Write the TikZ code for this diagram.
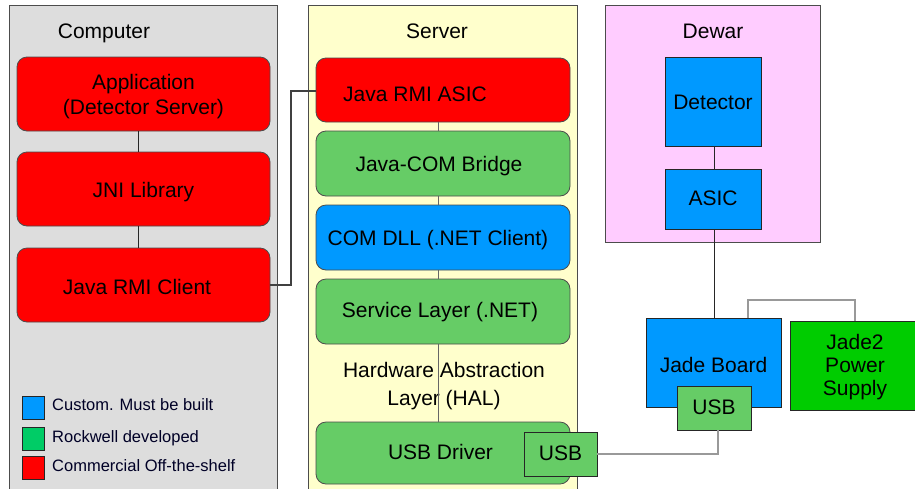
\documentclass[tikz,border=0pt]{standalone}
\usepackage{fontspec}
\setmainfont{Liberation Sans}
\begin{document}
\begin{tikzpicture}[x=1pt,y=-1pt,
  panel/.style={draw=black!70, line width=0.9pt},
  big/.style={font=\fontsize{21}{25}\selectfont},
  th/.style={text height=#1, text depth=0pt},
  rbox/.style={draw=black!70, line width=0.8pt, rounded corners=10pt, align=center, inner sep=0pt, big},
  sbox/.style={draw=black!85, line width=0.9pt, align=center, inner sep=0pt, big},
  link/.style={draw=black!85, line width=0.9pt},
  glink/.style={draw=black!40, line width=1.8pt},
  legbox/.style={draw=black!85, line width=0.9pt, minimum width=22pt, minimum height=23pt, inner sep=0pt},
  legtext/.style={anchor=west, inner sep=0pt, font=\fontsize{16.5}{19}\selectfont, text=black!85!blue},
  title/.style={big, inner sep=0pt, th=15pt}]
\definecolor{cred}{RGB}{255,0,0}
\definecolor{cgreen}{RGB}{102,204,102}
\definecolor{cblue}{RGB}{0,153,255}
\definecolor{cgreenB}{RGB}{0,204,0}
\definecolor{cgreenL}{RGB}{0,204,102}
\definecolor{cgray}{RGB}{221,221,221}
\definecolor{cyel}{RGB}{255,255,204}
\definecolor{cpink}{RGB}{255,204,255}
\useasboundingbox (0,0) rectangle (915,488);
\clip (0,0) rectangle (915,488);
% panels
\path[panel, fill=cgray] (9,5) rectangle (277,500);
\path[panel, fill=cyel] (308,5) rectangle (577,500);
\path[panel, fill=cpink] (605,5) rectangle (820,242);
\node[title] (tcomp) at (104,31) {Computer};
\node[title] (tserv) at (437,31) {Server};
\node[title] (tdew) at (713,31) {Dewar};
% computer
\node[rbox, fill=cred, minimum width=253pt, minimum height=74pt, th=41pt] (app) at (143.5,94) {Application\\(Detector Server)};
\node[rbox, fill=cred, minimum width=253pt, minimum height=74pt, th=17pt] (jni) at (143.5,189) {JNI Library};
\node[rbox, fill=cred, minimum width=253pt, minimum height=74pt, th=19pt] (rmic) at (143.5,285) {\hspace*{-13pt}Java RMI Client};
% server
\node[rbox, fill=cred, minimum width=254pt, minimum height=64pt, th=23pt] (rmia) at (443,90) {Java RMI ASIC\hspace*{56pt}};
\node[rbox, fill=cgreen, minimum width=254pt, minimum height=65pt, th=16pt] (bridge) at (443,163.5) {\hspace*{-8pt}Java-COM Bridge};
\node[rbox, fill=cblue, minimum width=254pt, minimum height=65pt, th=16pt] (comdll) at (443,237.5) {\hspace*{-10pt}COM DLL (.NET Client)};
\node[rbox, fill=cgreen, minimum width=254pt, minimum height=65pt, th=12pt] (svc) at (443,311.5) {\hspace*{-6pt}Service Layer (.NET)};
\node[align=center, inner sep=0pt, font=\fontsize{21}{28}\selectfont, th=43pt] (hal) at (444,384) {Hardware Abstraction\\Layer (HAL)};
\node[rbox, fill=cgreen, minimum width=254pt, minimum height=62pt, th=13pt] (usbdrv) at (443,453) {USB Driver\hspace*{5pt}};
% dewar
\node[sbox, fill=cblue, minimum width=96pt, minimum height=89pt, th=15pt] (det) at (713,101.5) {Detector};
\node[sbox, fill=cblue, minimum width=96pt, minimum height=60pt, th=13pt] (asic) at (713,199) {ASIC};
% boards
\node[sbox, fill=cblue, minimum width=135pt, minimum height=89pt, th=20pt] (jade) at (713.5,362.5) {Jade Board};
\node[sbox, fill=cgreenB, minimum width=130pt, minimum height=89pt, font=\fontsize{21}{23.3}\selectfont, th=60.6pt] (psu) at (855,365.5) {Jade2\\Power\\Supply};
% connectors
\draw[link] ([xshift=-5.5pt]app.south) -- ([xshift=-5.5pt]jni.north);
\draw[link] ([xshift=-5.5pt]jni.south) -- ([xshift=-5.5pt]rmic.north);
\draw[link, draw=black!60] ([xshift=-4.5pt]rmia.south) -- ([xshift=-4.5pt]bridge.north);
\draw[link, draw=black!60] ([xshift=-4.5pt]bridge.south) -- ([xshift=-4.5pt]comdll.north);
\draw[link, draw=black!60] ([xshift=-4.5pt]comdll.south) -- ([xshift=-4.5pt]svc.north);
\draw[link, draw=black!60] ([xshift=-4.5pt]svc.south) -- ([xshift=-4.5pt]usbdrv.north);
\coordinate (r1) at (291,91);
\draw[link, draw=black!75, line width=1.2pt] (rmic.east) -| (r1) -- (rmia.west |- r1);
\draw[link] ([xshift=1pt]det.south) -- ([xshift=1pt]asic.north);
\draw[link] ([xshift=1pt]asic.south) -- ([xshift=0.5pt]jade.north);
\coordinate (j1) at (748,300);
\draw[glink] (j1 |- jade.north) -- (j1) -| (psu.north);
% USB boxes
\node[sbox, fill=cgreen, minimum width=74pt, minimum height=44pt, th=13pt] (usbj) at (714,408) {USB};
\node[sbox, fill=cgreen, minimum width=73pt, minimum height=44pt, th=13pt] (usbs) at (560.5,454) {USB};
\coordinate (u1) at (718,454);
\draw[glink] (usbj.south -| u1) -- (u1) -- (usbs.east);
% legend
\node[legbox, fill=cblue] (lb) at (33,407.5) {};
\node[legbox, fill=cgreenL] (lg) at (33,438.5) {};
\node[legbox, fill=cred] (lr) at (33,467.5) {};
\node[legtext] (tb) at (52,405) {Custom. Must be built};
\node[legtext] (tg) at (52,438) {Rockwell developed};
\node[legtext] (tr) at (52,466) {Commercial Off-the-shelf};
\end{tikzpicture}
\end{document}
